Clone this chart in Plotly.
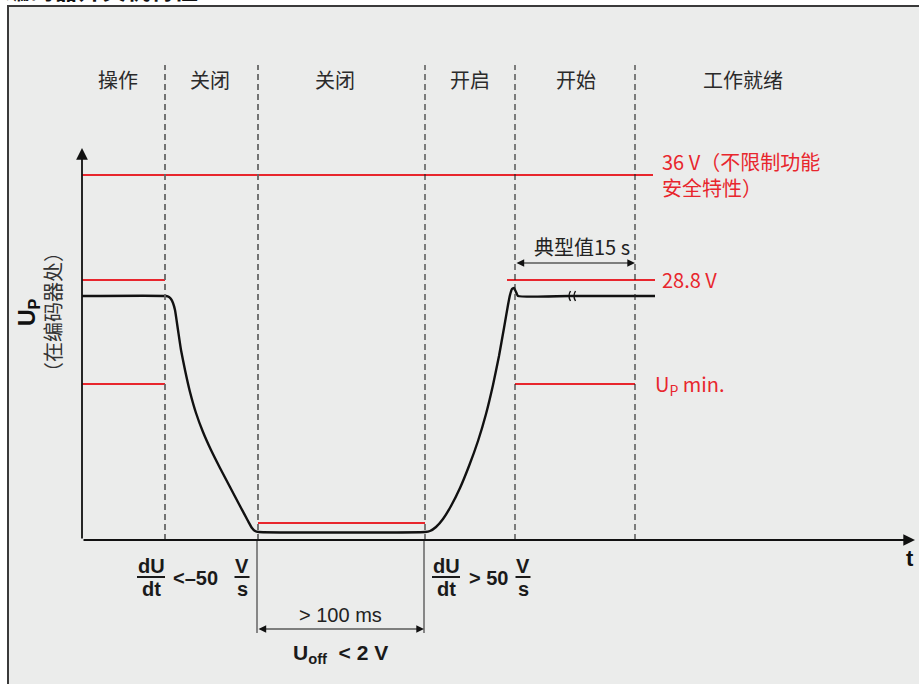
import plotly.graph_objects as go

# ---- schematic data (t: time units from origin, u: level units above t-axis) ----
phase_bounds_t = [83, 176, 343, 433, 553]
phase_labels = ["操作", "关闭", "关闭", "开启", "开始", "工作就绪"]
phase_label_t = [36, 128, 253, 388, 494, 661]

level_36v = 365
level_288 = 260
level_upmin = 156
level_uoff = 17

curve_t = [0, 84, 87, 89, 91, 93, 96, 99, 103, 108, 114, 121, 129, 138, 148, 158, 166, 170, 173, 177,
           343, 348, 354, 361, 369, 378, 387, 396, 404, 411, 417, 422, 426, 428, 430, 432, 434, 436, 487]
curve_u = [244, 244, 243, 241, 237, 230, 210, 190, 170, 148, 127, 108, 90, 72, 53, 34, 19, 12, 9, 8,
           8, 9, 13, 21, 34, 52, 74, 99, 126, 155, 184, 212, 235, 245, 251, 252, 248, 244, 244]
run_t = [487, 573]
run_u = [244, 244]
break_t = [487, 492]

axis_top_u = 392
axis_end_t = 833
dash_top_u = 475

FONT_CJK = "Noto Sans CJK SC"
FONT_LAT = "Liberation Sans, Arial, Noto Sans CJK SC"
RED = "#e8262d"

fig = go.Figure()

# panel box
fig.add_shape(type="rect", x0=-74, x1=850, y0=-170, y1=534,
              line=dict(color="#3a3a3a", width=2), fillcolor="#ebeceb", layer="below")

# phase boundaries
for i, t in enumerate(phase_bounds_t):
    gray = i < 2
    fig.add_shape(type="line", x0=t, x1=t, y0=0, y1=dash_top_u,
                  line=dict(color="#666666" if gray else "#222222",
                            width=1.8 if gray else 1.1, dash="6px,4px"))

for lab, t in zip(phase_labels, phase_label_t):
    fig.add_annotation(x=t, y=461, text=lab, showarrow=False,
                       font=dict(family=FONT_CJK, size=20, color="#2a2a2a"))

# red level lines
red_segments = [
    ([0, 571], [level_36v, level_36v]),
    ([0, 83], [level_288, level_288]),
    ([425, 573], [level_288, level_288]),
    ([0, 83], [level_upmin, level_upmin]),
    ([433, 553], [level_upmin, level_upmin]),
    ([176, 343], [level_uoff, level_uoff]),
]
for xs, ys in red_segments:
    fig.add_trace(go.Scatter(x=xs, y=ys, mode="lines",
                             line=dict(color=RED, width=2.2), hoverinfo="skip"))

# supply voltage curve
fig.add_trace(go.Scatter(x=curve_t, y=curve_u, mode="lines",
                         line=dict(color="#111111", width=2.4, shape="spline", smoothing=0.4),
                         hoverinfo="skip"))
fig.add_trace(go.Scatter(x=run_t, y=run_u, mode="lines",
                         line=dict(color="#111111", width=2.4), hoverinfo="skip"))
# break marks on the continuing run
for bt in break_t:
    fig.add_shape(type="path",
                  path=f"M {bt+1.5} {run_u[0]+5} Q {bt-1.5} {run_u[0]} {bt+1.5} {run_u[0]-5}",
                  line=dict(color="#111111", width=1.4))

# axes with arrows
fig.add_annotation(x=0, y=axis_top_u, ax=0, ay=0, xref="x", yref="y", axref="x", ayref="y",
                   showarrow=True, arrowhead=2, arrowsize=1.3, arrowwidth=1.8,
                   arrowcolor="#111111", text="")
fig.add_annotation(x=axis_end_t, y=0, ax=0, ay=0, xref="x", yref="y", axref="x", ayref="y",
                   showarrow=True, arrowhead=2, arrowsize=1.3, arrowwidth=1.8,
                   arrowcolor="#111111", text="")
fig.add_annotation(x=828, y=-18, text="<b>t</b>", showarrow=False,
                   font=dict(family=FONT_LAT, size=22, color="#111111"))

# y-axis titles
fig.add_annotation(x=-54, y=228, text="<b>U<sub>P</sub></b>", textangle=-90, showarrow=False,
                   font=dict(family=FONT_LAT, size=23, color="#111111"))
fig.add_annotation(x=-30, y=228, text="（在编码器处）", textangle=-90, showarrow=False,
                   font=dict(family=FONT_CJK, size=20, color="#333333"))

# red labels
fig.add_annotation(x=578, y=366, text="36 V（不限制功能<br>安全特性）", showarrow=False,
                   xanchor="left", align="left",
                   font=dict(family=FONT_CJK, size=20, color=RED))
fig.add_annotation(x=578, y=level_288 + 1, text="28.8 V", showarrow=False, xanchor="left",
                   font=dict(family=FONT_CJK, size=20, color=RED))
fig.add_annotation(x=571, y=level_upmin, text="U<sub>P</sub> min.", showarrow=False, xanchor="left",
                   font=dict(family=FONT_CJK, size=20, color=RED))

# typical 15 s dimension
fig.add_annotation(x=553, y=277, ax=433, ay=277, xref="x", yref="y", axref="x", ayref="y",
                   showarrow=True, arrowhead=2, startarrowhead=2, arrowside="end+start",
                   arrowsize=1.4, startarrowsize=1.4, arrowwidth=1.1, arrowcolor="#111111", text="")
fig.add_annotation(x=500, y=294, text="典型值15 s", showarrow=False,
                   font=dict(family=FONT_CJK, size=20, color="#222222"))

# >100 ms dimension
for t in [175, 342]:
    fig.add_shape(type="line", x0=t, x1=t, y0=0, y1=-93,
                  line=dict(color="#333333", width=1.1))
fig.add_annotation(x=342, y=-89, ax=175, ay=-89, xref="x", yref="y", axref="x", ayref="y",
                   showarrow=True, arrowhead=2, startarrowhead=2, arrowside="end+start",
                   arrowsize=1.4, startarrowsize=1.4, arrowwidth=1.1, arrowcolor="#111111", text="")
fig.add_annotation(x=258, y=-75, text="&gt; 100 ms", showarrow=False,
                   font=dict(family=FONT_LAT, size=20, color="#222222"))
fig.add_annotation(x=258, y=-114, text="<b>U<sub>off</sub>  &lt; 2 V</b>", showarrow=False,
                   font=dict(family=FONT_LAT, size=21, color="#1a1a1a"))

# dU/dt labels
def frac(tc, top, bot, width):
    fig.add_annotation(x=tc, y=-26, text=f"<b>{top}</b>", showarrow=False,
                       font=dict(family=FONT_LAT, size=20, color="#1a1a1a"))
    fig.add_annotation(x=tc, y=-49, text=f"<b>{bot}</b>", showarrow=False,
                       font=dict(family=FONT_LAT, size=20, color="#1a1a1a"))
    fig.add_shape(type="line", x0=tc - width / 2, x1=tc + width / 2, y0=-37, y1=-37,
                  line=dict(color="#1a1a1a", width=2))

frac(69, "dU", "dt", 28)
fig.add_annotation(x=113, y=-38, text="<b>&lt;–50</b>", showarrow=False,
                   font=dict(family=FONT_LAT, size=20, color="#1a1a1a"))
frac(160, "V", "s", 15)
frac(364, "dU", "dt", 28)
fig.add_annotation(x=406, y=-38, text="<b>&gt; 50</b>", showarrow=False,
                   font=dict(family=FONT_LAT, size=20, color="#1a1a1a"))
frac(441, "V", "s", 15)

# heading, cut off at the top edge in the reference
fig.add_annotation(x=-78, y=532, text="<b>编码器开关机特性</b>", showarrow=False,
                   xanchor="left", yanchor="bottom",
                   font=dict(family=FONT_CJK, size=24, color="#111111"))

fig.update_layout(
    width=919, height=684,
    margin=dict(l=0, r=0, t=0, b=0),
    paper_bgcolor="white", plot_bgcolor="white",
    showlegend=False,
    xaxis=dict(range=[-82, 837], visible=False, fixedrange=True),
    yaxis=dict(range=[-144, 540], visible=False, fixedrange=True),
)

fig.write_html("out.html",
               config={"displayModeBar": False},
               post_script="document.body.style.margin='0';document.body.style.overflow='hidden';")
